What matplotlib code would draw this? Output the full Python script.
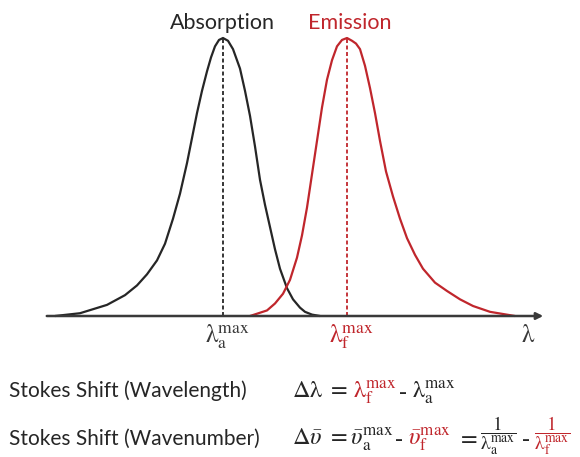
import matplotlib.pyplot as plt
from matplotlib.transforms import IdentityTransform

# === Data (wavelength in a.u., normalised intensity) ===
abs_wl = [55, 80, 107, 125, 137, 147, 157, 165, 173, 180, 187, 192, 197, 202, 207, 211, 215, 219, 223,
          228, 233, 237, 240, 245, 250, 255, 260, 265, 270, 275, 280, 287, 293, 300, 305, 312, 320]
abs_int = [0.0, 0.01, 0.04, 0.075, 0.11, 0.15, 0.20, 0.26, 0.35, 0.44, 0.55, 0.64, 0.73, 0.81, 0.88, 0.93, 0.97, 0.993, 1.0,
           0.99, 0.96, 0.92, 0.89, 0.81, 0.72, 0.61, 0.49, 0.40, 0.32, 0.24, 0.17, 0.10, 0.06, 0.03, 0.015, 0.005, 0.0]

em_wl = [250, 267, 275, 283, 290, 297, 302, 307, 312, 317, 322, 327, 332, 337, 342, 347,
         352, 356, 360, 365, 370, 375, 380, 386, 393, 400, 407, 415, 423, 435, 447, 460, 473, 490, 515]
em_int = [0.0, 0.02, 0.045, 0.08, 0.13, 0.21, 0.29, 0.39, 0.51, 0.63, 0.75, 0.85, 0.92, 0.97, 0.993, 1.0,
          0.99, 0.98, 0.96, 0.90, 0.82, 0.73, 0.63, 0.52, 0.43, 0.35, 0.28, 0.22, 0.17, 0.12, 0.09, 0.06, 0.036, 0.015, 0.0]

abs_peak = 223
em_peak = 347

black = '#262626'
gray = '#3a3a3a'
red = '#c0262c'

plt.rcParams['font.family'] = ['Lato', 'DejaVu Sans']
plt.rcParams['mathtext.fontset'] = 'stix'

fig = plt.figure(figsize=(5.8, 4.57), dpi=100)
ax = fig.add_axes([0, 0, 1, 1])
# intensity 0 sits 141 px from bottom, 1.0 at 419 px
ax.set_xlim(0, 580)
ax.set_ylim(-141 / 278, (457 - 141) / 278)
ax.axis('off')

ax.plot(abs_wl, abs_int, color=black, lw=1.6, solid_capstyle='round')
ax.plot(em_wl, em_int, color=red, lw=1.6, solid_capstyle='round')
ax.plot([abs_peak, abs_peak], [0, 1], color=black, lw=1.3, ls=(0, (2.2, 1.4)))
ax.plot([em_peak, em_peak], [0, 1], color=red, lw=1.3, ls=(0, (2.2, 1.4)))

# wavelength axis with arrow
ax.annotate('', xy=(546, 0), xytext=(44, 0),
            arrowprops=dict(arrowstyle='-|>,head_length=0.4,head_width=0.2', color=gray, lw=1.8))

ax.text(abs_peak - 1, 1.032, 'Absorption', ha='center', va='baseline', fontsize=15.5, color=black)
ax.text(em_peak + 3, 1.032, 'Emission', ha='center', va='baseline', fontsize=15.5, color=red)

lab_y = (316 - 342) / 278
ax.text(abs_peak + 4, lab_y, r'$\mathrm{\lambda}_{\mathrm{a}}^{\mathrm{max}}$', ha='center', va='baseline',
        fontsize=18, color=gray)
ax.text(em_peak + 4, lab_y, r'$\mathrm{\lambda}_{\mathrm{f}}^{\mathrm{max}}$', ha='center', va='baseline',
        fontsize=18, color=red)
ax.text(528, lab_y, r'$\mathrm{\lambda}$', ha='center', va='baseline', fontsize=18, color=gray)

# === Equations (pieces placed one after another, in pixels) ===
renderer = fig.canvas.get_renderer()


def put_row(x, y_from_top, parts):
    for s, c, size, gap, dy in parts:
        t = fig.text(x, 457 - y_from_top + dy, s, color=c, fontsize=size, va='baseline', ha='left',
                     transform=IdentityTransform())
        x += t.get_window_extent(renderer).width + gap


fig.text(9, 457 - 397, 'Stokes Shift (Wavelength)', fontsize=15, color=black,
         va='baseline', transform=IdentityTransform())
fig.text(9, 457 - 445, 'Stokes Shift (Wavenumber)', fontsize=15, color=black,
         va='baseline', transform=IdentityTransform())

put_row(292, 397, [
    (r'$\Delta\mathrm{\lambda}\ =$', black, 17.5, 5, 0),
    (r'$\mathrm{\lambda}_{\mathrm{f}}^{\mathrm{max}}$', red, 17.5, 1, 0),
    (r'$\mathrm{\text{-}}$', black, 17.5, 5, 0),
    (r'$\mathrm{\lambda}_{\mathrm{a}}^{\mathrm{max}}$', black, 17.5, 0, 0),
])

put_row(292, 444, [
    (r'$\Delta\bar{\upsilon}\ = \bar{\upsilon}_{\mathrm{a}}^{\mathrm{max}}$', black, 17.5, 1, 0),
    (r'$\mathrm{\text{-}}$', black, 17.5, 5, 0),
    (r'$\bar{\upsilon}_{\mathrm{f}}^{\mathrm{max}}$', red, 17.5, 6, 0),
    (r'$=$', black, 17.5, 2, 0),
    (r'$\dfrac{1}{\mathrm{\lambda}_{\mathrm{a}}^{\mathrm{max}}}$', black, 14, 4, 6),
    (r'$\mathrm{\text{-}}$', black, 17.5, 4, 0),
    (r'$\dfrac{1}{\mathrm{\lambda}_{\mathrm{f}}^{\mathrm{max}}}$', red, 14, 0, 6),
])

fig.savefig('out.png', dpi=100)
